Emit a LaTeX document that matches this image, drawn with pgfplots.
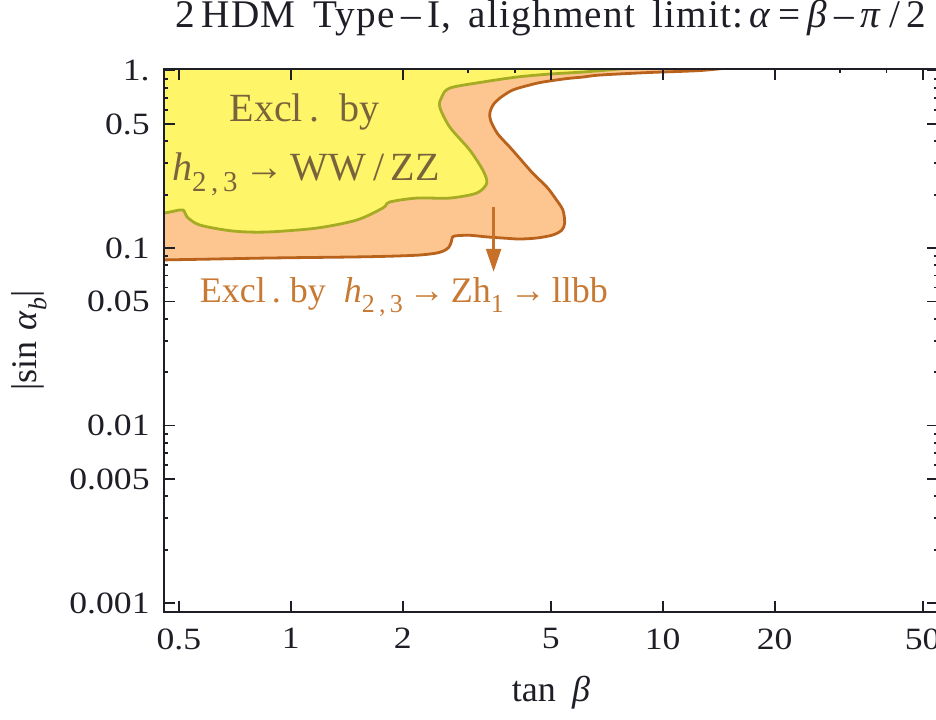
\documentclass[border=0pt]{standalone}
\usepackage{fontspec}
\setmainfont{Liberation Serif}
\newfontfamily\tickfont{Liberation Serif}[FakeStretch=1.15]
\newfontfamily\titlefont{Liberation Serif}[LetterSpace=3]
\usepackage{graphicx}
\usepackage{pgfplots}
\pgfplotsset{compat=1.18}
\usetikzlibrary{arrows.meta}

\definecolor{wwfill}{RGB}{255,245,105}
\definecolor{wwline}{RGB}{165,172,35}
\definecolor{zhfill}{RGB}{253,198,145}
\definecolor{zhline}{RGB}{185,98,28}
\definecolor{zharrow}{RGB}{198,112,42}
\definecolor{wwtext}{RGB}{120,100,60}
\definecolor{zhtext}{RGB}{200,122,52}
\definecolor{ink}{RGB}{30,30,38}

% small lowered index
\newcommand\lo[1]{\raisebox{-0.28em}{\scalebox{0.72}{#1}}}

\begin{document}
\begin{tikzpicture}
\useasboundingbox (0pt,0pt) rectangle (468pt,359.5pt);
\begin{axis}[
  at={(82pt,53.5pt)}, anchor=south west,
  scale only axis, width=387pt, height=271.5pt,
  xmode=log, ymode=log,
  xmin=0.456, xmax=55, ymin=0.00089, ymax=1.02,
  axis on top,
  axis line style={ink, line width=1.3pt},
  tick style={ink, line width=0.9pt},
  major tick length=5.5pt, minor tick length=2.2pt,
  xtick={0.5,1,2,5,10,20,50},
  xticklabels={0.5,1,2,5,10,20,50},
  extra x ticks={3,4,30,40},
  extra x tick labels={},
  extra x tick style={xtick pos=right, major tick length=2.2pt},
  ytick={0.001,0.005,0.01,0.05,0.1,0.5,1},
  yticklabels={0.001,0.005,0.01,0.05,0.1,0.5,1.},
  minor ytick={0.002,0.003,0.004,0.006,0.007,0.008,0.009,
               0.02,0.03,0.04,0.06,0.07,0.08,0.09,
               0.2,0.3,0.4,0.6,0.7,0.8,0.9},
  tick label style={font=\tickfont\fontsize{15.5}{18}\selectfont, text=ink},
  xticklabel style={anchor=north, inner sep=0pt, yshift=-8pt},
  yticklabel style={anchor=east, inner sep=0pt, xshift=-7pt},
  xlabel={tan\hspace{0.45em}\textit{β}},
  ylabel={|sin\hspace{0.3em}\textit{α}\lo{\textit{b}}|},
  every axis x label/.style={at={(axis description cs:0.5,-0.165)}, anchor=base},
  every axis y label/.style={at={(axis description cs:-0.1744,0.5)}, anchor=center, rotate=90},
  label style={font=\fontsize{18}{22}\selectfont, text=ink},
  title={2\,HDM\, Type\,–\,I,\, alighment\, limit:\,\textit{α}\,=\,\textit{β}\,–\,\textit{π}\,/\,2},
  title style={at={(axis description cs:0.5,1.0545)}, anchor=base, inner sep=0pt,
               font=\titlefont\fontsize{19.6}{23}\selectfont, text=ink},
]
% h_{2,3} -> Z h_1 -> l l b b exclusion
\addplot[smooth, fill=zhfill, draw=zhline, line width=1.4pt] coordinates {
  (0.44,0.0856) (0.60,0.0866) (0.80,0.0876) (1.0,0.0882) (1.44,0.0890)
  (1.8,0.0898) (2.2,0.0912) (2.45,0.0935) (2.58,0.0965) (2.66,0.1010)
  (2.70,0.1080) (2.72,0.1150) (2.78,0.1172) (3.03,0.1180) (3.37,0.1155)
  (3.8,0.1135) (4.13,0.1124) (4.6,0.1140) (5.06,0.1184) (5.35,0.1260)
  (5.45,0.1383) (5.39,0.1637) (5.15,0.190) (4.88,0.2207) (4.47,0.2645)
  (4.1,0.325) (3.88,0.3707) (3.6,0.440) (3.45,0.520) (3.43,0.5761)
  (3.50,0.640) (3.65,0.700) (3.95,0.7765) (4.40,0.830) (4.76,0.8614)
  (5.5,0.900) (6.10,0.919) (6.77,0.943) (9.2,0.975) (12.6,1.0) (16,1.05)
} -- (axis cs:0.44,1.05) -- cycle;
% h_{2,3} -> WW/ZZ exclusion
\addplot[smooth, fill=wwfill, draw=wwline, line width=1.4pt] coordinates {
  (0.44,0.1575) (0.4557,0.1575) (0.4728,0.1595) (0.5125,0.1640) (0.5253,0.1500)
  (0.5692,0.1348) (0.6983,0.1247) (0.8619,0.1231) (1.175,0.1296) (1.504,0.1438)
  (1.767,0.1680) (1.845,0.1816) (2.182,0.1912) (2.675,0.1912) (3.162,0.2041)
  (3.365,0.2324) (3.282,0.275) (3.028,0.3565) (2.675,0.4806) (2.515,0.6228)
  (2.546,0.7089) (2.675,0.7968) (3.282,0.8614) (4.051,0.919) (4.969,0.9556)
  (6.096,0.9807) (7.66,1.02) (9,1.05)
} -- (axis cs:0.44,1.05) -- cycle;
% arrow pointing to the excluded direction
\addplot[zharrow, line width=1.2pt, -{Triangle[length=11.5pt,width=7.5pt]}]
  coordinates {(3.51,0.170) (3.51,0.0735)};

\node[text=wwtext, font=\fontsize{20}{24}\selectfont, anchor=base]
  at (axis cs:1.09,0.519) {Excl\,.\ \ by};
\node[text=wwtext, font=\fontsize{20}{24}\selectfont, anchor=base]
  at (axis cs:1.098,0.2416) {\textit{h}\lo{2\,,\,3}\,→\,WW\,/\,ZZ};
\node[text=zhtext, font=\fontsize{18}{22}\selectfont, anchor=base]
  at (axis cs:2.013,0.04965) {Excl\,.\ by\ \ \textit{h}\lo{2\,,\,3}\,→\,Zh\lo{1}\,→\,llbb};
\end{axis}
\end{tikzpicture}
\end{document}
